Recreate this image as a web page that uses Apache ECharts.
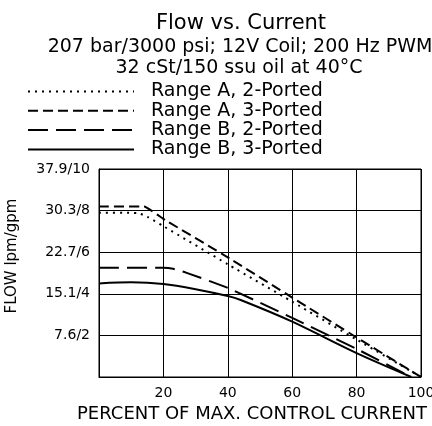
<!DOCTYPE html>
<html>
<head>
<meta charset="utf-8">
<script src="https://cdn.jsdelivr.net/npm/echarts@6/dist/echarts.min.js"></script>
<style>
  html, body { margin: 0; padding: 0; background: #fff; }
  #chart { width: 432px; height: 426px; }
</style>
</head>
<body>
<div id="chart"></div>
<script>
// percent of max control current / flow in gpm
const rangeA2Pct = [0, 12, 15, 20, 40, 60, 80, 100];
const rangeA2Gpm = [7.9, 7.88, 7.7, 7.25, 5.42, 3.62, 1.8, 0];

const rangeA3Pct = [0, 14, 20, 40, 60, 80, 100];
const rangeA3Gpm = [8.2, 8.2, 7.6, 5.75, 3.82, 1.9, 0];

const rangeB2Pct = [0, 20, 23, 27, 40, 60, 80, 97];
const rangeB2Gpm = [5.25, 5.25, 5.2, 5.02, 4.28, 2.84, 1.35, 0];

const rangeB3Pct = [0, 10, 20, 30, 40, 44, 60, 80, 97];
const rangeB3Gpm = [4.5, 4.55, 4.47, 4.22, 3.89, 3.7, 2.66, 1.15, 0];

const seriesNames = ['Range A, 2-Ported', 'Range A, 3-Ported', 'Range B, 2-Ported', 'Range B, 3-Ported'];
const flowTickLabels = ['', '7.6/2', '15.1/4', '22.7/6', '30.3/8', '37.9/10'];

const font = 'DejaVu Sans';

function pairs(xs, ys) {
  return xs.map((x, i) => [x, ys[i]]);
}

const chart = echarts.init(document.getElementById('chart'));
chart.setOption({
  backgroundColor: '#fff',
  animation: false,
  textStyle: { fontFamily: font, color: '#000' },
  title: [
    { text: 'Flow vs. Current', left: 236, top: 8, textAlign: 'center',
      textStyle: { fontFamily: font, fontSize: 21, fontWeight: 'normal', color: '#000' } },
    { text: '207 bar/3000 psi; 12V Coil; 200 Hz PWM', left: 235, top: 33, textAlign: 'center',
      textStyle: { fontFamily: font, fontSize: 19, fontWeight: 'normal', color: '#000' } },
    { text: '32 cSt/150 ssu oil at 40°C', left: 234, top: 54, textAlign: 'center',
      textStyle: { fontFamily: font, fontSize: 19, fontWeight: 'normal', color: '#000' } }
  ],
  legend: {
    orient: 'vertical',
    left: 22,
    top: 77,
    itemWidth: 106,
    itemHeight: 20,
    itemGap: 0.3,
    data: seriesNames,
    itemStyle: { opacity: 0 },
    textStyle: { fontFamily: font, fontSize: 19, color: '#000', padding: [0, 0, 0, 12] }
  },
  grid: {
    left: 99, right: 11, top: 169, bottom: 49,
    containLabel: false, outerBoundsMode: 'none',
    show: true, borderColor: '#000', borderWidth: 1
  },
  xAxis: {
    type: 'value',
    min: 0,
    max: 100,
    interval: 20,
    name: 'PERCENT OF MAX. CONTROL CURRENT',
    nameLocation: 'middle',
    nameGap: 28,
    nameTextStyle: { fontFamily: font, fontSize: 18, color: '#000', padding: [0, 16, 0, 0] },
    axisLine: { lineStyle: { color: '#000' } },
    axisTick: { show: false },
    axisLabel: {
      fontFamily: font, fontSize: 14, color: '#000', margin: 9,
      formatter: v => (v === 0 ? '' : v)
    },
    splitLine: { show: true, lineStyle: { color: '#000', width: 1 } }
  },
  yAxis: {
    type: 'value',
    min: 0,
    max: 10,
    interval: 2,
    name: 'FLOW lpm/gpm',
    nameLocation: 'middle',
    nameRotate: 90,
    nameGap: 79,
    nameTextStyle: { fontFamily: font, fontSize: 15, color: '#000', padding: [0, 0, 0, 34] },
    axisLine: { lineStyle: { color: '#000' } },
    axisTick: { show: false },
    axisLabel: {
      fontFamily: font, fontSize: 14, color: '#000', margin: 9,
      formatter: v => flowTickLabels[Math.round(v / 2)]
    },
    splitLine: { show: true, lineStyle: { color: '#000', width: 1 } }
  },
  series: [
    {
      name: seriesNames[0], type: 'line', symbol: 'none', smooth: 0.2,
      lineStyle: { color: '#000', width: 2, type: [2, 5] },
      data: pairs(rangeA2Pct, rangeA2Gpm)
    },
    {
      name: seriesNames[1], type: 'line', symbol: 'none', smooth: 0.1,
      lineStyle: { color: '#000', width: 2, type: [10, 5] },
      data: pairs(rangeA3Pct, rangeA3Gpm)
    },
    {
      name: seriesNames[2], type: 'line', symbol: 'none', smooth: 0.2,
      lineStyle: { color: '#000', width: 2, type: [20, 8] },
      data: pairs(rangeB2Pct, rangeB2Gpm)
    },
    {
      name: seriesNames[3], type: 'line', symbol: 'none', smooth: 0.3,
      lineStyle: { color: '#000', width: 2, type: 'solid' },
      data: pairs(rangeB3Pct, rangeB3Gpm)
    }
  ]
});
</script>
</body>
</html>
